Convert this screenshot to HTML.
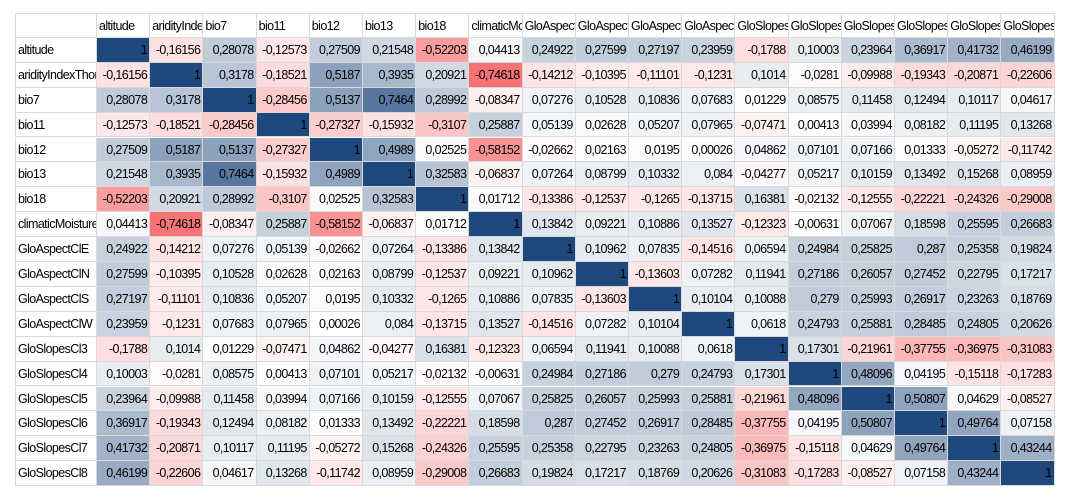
<!DOCTYPE html>
<html><head><meta charset="utf-8">
<style>
body{margin:0;background:#fff;width:1069px;height:500px;overflow:hidden;position:relative;font-family:"Liberation Sans",sans-serif;}
.c{position:absolute;box-sizing:border-box;border-right:1px solid #d9d9d9;border-bottom:1px solid #d9d9d9;font-size:12.5px;letter-spacing:-0.6px;line-height:24px;white-space:nowrap;overflow:hidden;color:#000;}
.n{text-align:right;padding-right:2px;}
.l{padding-left:2px;}
</style></head><body>
<div id="grid"></div>
<script>
const labels=["altitude","aridityIndexThornthwaite","bio7","bio11","bio12","bio13","bio18","climaticMoistureIndex","GloAspectClE","GloAspectClN","GloAspectClS","GloAspectClW","GloSlopesCl3","GloSlopesCl4","GloSlopesCl5","GloSlopesCl6","GloSlopesCl7","GloSlopesCl8"];
const m=[
[1,-0.16156,0.28078,-0.12573,0.27509,0.21548,-0.52203,0.04413,0.24922,0.27599,0.27197,0.23959,-0.1788,0.10003,0.23964,0.36917,0.41732,0.46199],
[-0.16156,1,0.3178,-0.18521,0.5187,0.3935,0.20921,-0.74618,-0.14212,-0.10395,-0.11101,-0.1231,0.1014,-0.0281,-0.09988,-0.19343,-0.20871,-0.22606],
[0.28078,0.3178,1,-0.28456,0.5137,0.7464,0.28992,-0.08347,0.07276,0.10528,0.10836,0.07683,0.01229,0.08575,0.11458,0.12494,0.10117,0.04617],
[-0.12573,-0.18521,-0.28456,1,-0.27327,-0.15932,-0.3107,0.25887,0.05139,0.02628,0.05207,0.07965,-0.07471,0.00413,0.03994,0.08182,0.11195,0.13268],
[0.27509,0.5187,0.5137,-0.27327,1,0.4989,0.02525,-0.58152,-0.02662,0.02163,0.0195,0.00026,0.04862,0.07101,0.07166,0.01333,-0.05272,-0.11742],
[0.21548,0.3935,0.7464,-0.15932,0.4989,1,0.32583,-0.06837,0.07264,0.08799,0.10332,0.084,-0.04277,0.05217,0.10159,0.13492,0.15268,0.08959],
[-0.52203,0.20921,0.28992,-0.3107,0.02525,0.32583,1,0.01712,-0.13386,-0.12537,-0.1265,-0.13715,0.16381,-0.02132,-0.12555,-0.22221,-0.24326,-0.29008],
[0.04413,-0.74618,-0.08347,0.25887,-0.58152,-0.06837,0.01712,1,0.13842,0.09221,0.10886,0.13527,-0.12323,-0.00631,0.07067,0.18598,0.25595,0.26683],
[0.24922,-0.14212,0.07276,0.05139,-0.02662,0.07264,-0.13386,0.13842,1,0.10962,0.07835,-0.14516,0.06594,0.24984,0.25825,0.287,0.25358,0.19824],
[0.27599,-0.10395,0.10528,0.02628,0.02163,0.08799,-0.12537,0.09221,0.10962,1,-0.13603,0.07282,0.11941,0.27186,0.26057,0.27452,0.22795,0.17217],
[0.27197,-0.11101,0.10836,0.05207,0.0195,0.10332,-0.1265,0.10886,0.07835,-0.13603,1,0.10104,0.10088,0.279,0.25993,0.26917,0.23263,0.18769],
[0.23959,-0.1231,0.07683,0.07965,0.00026,0.084,-0.13715,0.13527,-0.14516,0.07282,0.10104,1,0.0618,0.24793,0.25881,0.28485,0.24805,0.20626],
[-0.1788,0.1014,0.01229,-0.07471,0.04862,-0.04277,0.16381,-0.12323,0.06594,0.11941,0.10088,0.0618,1,0.17301,-0.21961,-0.37755,-0.36975,-0.31083],
[0.10003,-0.0281,0.08575,0.00413,0.07101,0.05217,-0.02132,-0.00631,0.24984,0.27186,0.279,0.24793,0.17301,1,0.48096,0.04195,-0.15118,-0.17283],
[0.23964,-0.09988,0.11458,0.03994,0.07166,0.10159,-0.12555,0.07067,0.25825,0.26057,0.25993,0.25881,-0.21961,0.48096,1,0.50807,0.04629,-0.08527],
[0.36917,-0.19343,0.12494,0.08182,0.01333,0.13492,-0.22221,0.18598,0.287,0.27452,0.26917,0.28485,-0.37755,0.04195,0.50807,1,0.49764,0.07158],
[0.41732,-0.20871,0.10117,0.11195,-0.05272,0.15268,-0.24326,0.25595,0.25358,0.22795,0.23263,0.24805,-0.36975,-0.15118,0.04629,0.49764,1,0.43244],
[0.46199,-0.22606,0.04617,0.13268,-0.11742,0.08959,-0.29008,0.26683,0.19824,0.17217,0.18769,0.20626,-0.31083,-0.17283,-0.08527,0.07158,0.43244,1]
];
const X0=15,Y0=13,LW=82,CW=53.2,RH=24.9;
const g=document.getElementById('grid');
function color(v){
  if(v>=0){const t=Math.min(v,1);return `rgb(${Math.round(255+(31-255)*t)},${Math.round(255+(73-255)*t)},${Math.round(255+(125-255)*t)})`;}
  const t=Math.min(-v/0.8,1);return `rgb(${Math.round(255+(248-255)*t)},${Math.round(255+(105-255)*t)},${Math.round(255+(107-255)*t)})`;
}
function cell(x,y,w,h,txt,cls,bg){
  const d=document.createElement('div');
  d.className='c '+cls;
  d.style.left=x+'px';d.style.top=y+'px';d.style.width=w+'px';d.style.height=h+'px';
  if(bg)d.style.background=bg;
  d.textContent=txt;g.appendChild(d);return d;
}
let corner=cell(X0,Y0,LW,RH,'','l');
corner.style.borderTop='1px solid #d9d9d9';corner.style.borderLeft='1px solid #d9d9d9';


labels.forEach((lb,j)=>{
  const d=cell(X0+LW+j*CW,Y0,CW,RH,lb,'l');
  d.style.borderTop='1px solid #d9d9d9';
  
  
});
labels.forEach((lb,i)=>{
  const y=Y0+RH*(i+1);
  const r=cell(X0,y,LW,RH,lb,'l');
  r.style.borderLeft='1px solid #d9d9d9';
  
  
  m[i].forEach((v,j)=>{
    const d=cell(X0+LW+j*CW,y,CW,RH,String(v).replace('.',','),'n',color(v));
    
    
  });
});
</script>
</body></html>
